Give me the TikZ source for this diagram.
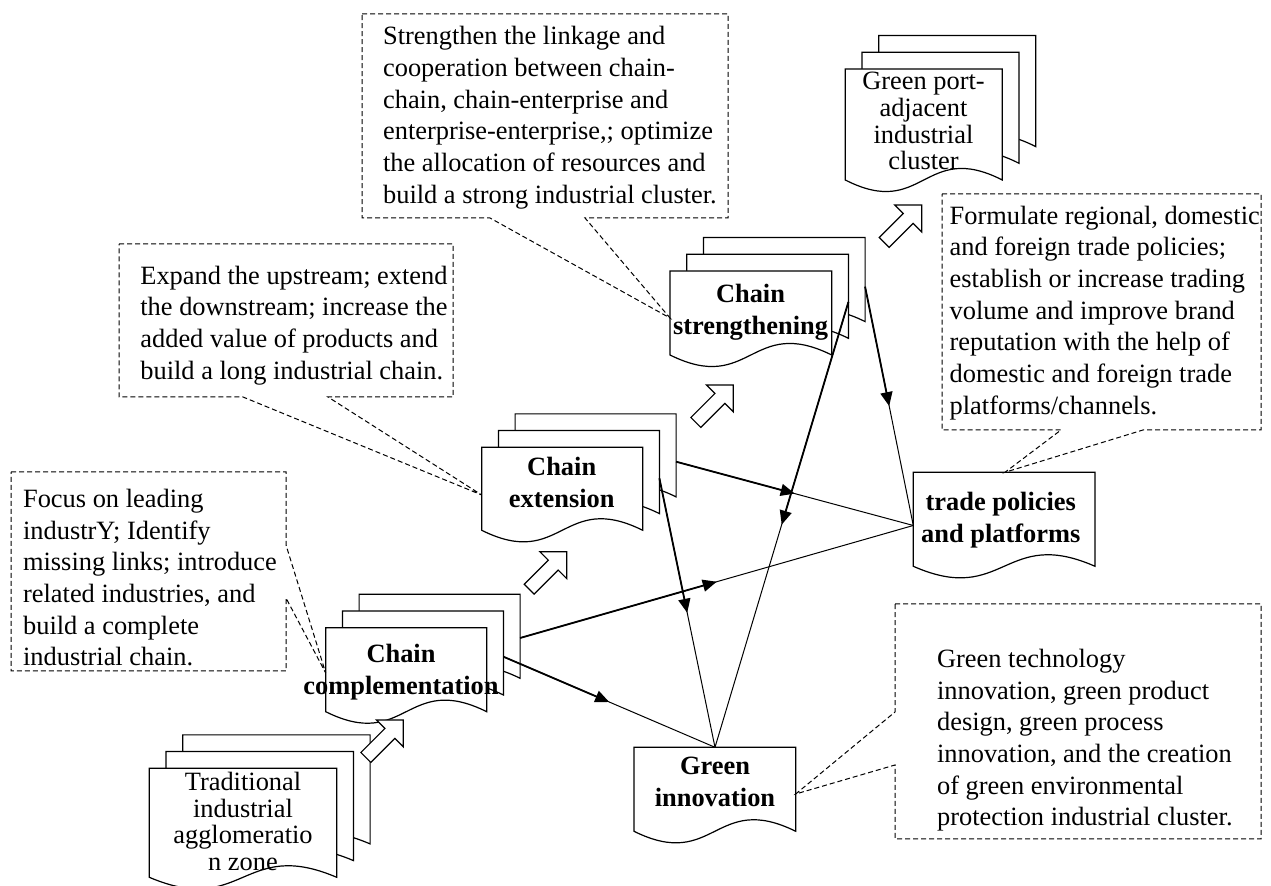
\documentclass[tikz,border=0pt]{standalone}
\usepackage{fontspec}
\setmainfont{Liberation Serif}
\usetikzlibrary{arrows.meta,calc}

% one page of a document symbol: left, top, width, side height
\newcommand{\docpage}[4]{%
  \draw[docline] ({#1},{#2}) -- ++(#3,0) -- ++(0,#4)
    .. controls +(-0.5*#3,-40) and +(0.5*#3,40) .. ++(-#3,0) -- cycle;}
% a pile of pages, the back ones first
\newcommand{\docstack}[5]{%
  \foreach \p in {#5,...,1}{%
    \pgfmathsetmacro\off{(\p-1)*16.7}
    \docpage{#1+\off}{#2-\off}{#3}{#4}}}

\begin{document}
\begin{tikzpicture}[x=0.5pt,y=-0.5pt,
  docline/.style={draw,fill=white,line width=0.6pt},
  doclabel/.style={anchor=north,inner sep=0pt,align=center,font=\fontsize{13.2}{15.85}\selectfont\bfseries},
  stacklabel/.style={anchor=north,inner sep=0pt,align=center,font=\fontsize{13.2}{13.3}\selectfont},
  note/.style={anchor=north west,inner sep=0pt,align=left,font=\fontsize{13.2}{15.85}\selectfont},
  notebox/.style={line width=0.5pt,dash pattern=on 2.5pt off 1.5pt},
  link/.style={line width=0.5pt},
  flow/.style={line width=0.9pt,-{Triangle[length=7pt,width=6pt]}},
  hollow/.style={draw,fill=white,line width=0.6pt}]

			\useasboundingbox (0,0) rectangle (1271,886);

			% document piles
			\docstack{149.3}{768.3}{187.4}{109}{3}
			\docstack{325.7}{627.7}{161}{84}{3}
			\docstack{481.7}{447.3}{161}{83}{3}
			\docstack{670}{271}{161.7}{84}{3}
			\docstack{845.3}{69}{157}{111}{3}
			\docstack{913.3}{472.3}{181.7}{94}{1}
			\docstack{634}{747.3}{161.7}{84}{1}

			\node[stacklabel] (trad) at (243,772) {Traditional\\industrial\\agglomeratio\\n zone};
			\node[stacklabel] (port) at (923.5,72) {Green port-\\adjacent\\industrial\\cluster};
			\node[doclabel] (comp) at (401,643.7) {Chain\\complementation};
			\node[doclabel] (ext) at (561.7,457) {Chain\\extension};
			\node[doclabel] (str) at (750.5,283.7) {Chain\\strengthening};
			\node[doclabel] (trade) at (1000.8,492) {trade policies\\and platforms};
			\node[doclabel] (green) at (715,757) {Green\\innovation};

			% where the lines meet the pages
			\coordinate (comp-r3) at (520.1,638);
			\coordinate (comp-r2) at (503.4,656.7);
			\coordinate (ext-r3) at (676.1,461.7);
			\coordinate (ext-r2) at (659.4,478.3);
			\coordinate (str-r3) at (865.1,286.7);
			\coordinate (str-r2) at (848.4,302);
			\coordinate (trade-in) at (913.3,525.5);
			\coordinate (green-in) at (715,747.3);
			\coordinate (comp-tip) at (325.7,673);
			\coordinate (ext-tip) at (481.7,495);
			\coordinate (str-tip) at (670,318);
			\coordinate (trade-tip) at (1005,472.3);
			\coordinate (green-tip) at (795.7,794);

			% hollow arrows from pile to pile
			\foreach \x/\y in {403.3/720,566.7/551.7,733.3/385,921.7/205}
			\draw[hollow,shift={(\x,\y)},rotate=45] (0,0) -- (-19,-19) -- (-19,-7) -- (-53,-7)
				-- (-53,7) -- (-19,7) -- (-19,19) -- cycle;

			\foreach \a/\b in {comp-r3/trade-in,ext-r3/trade-in,str-r3/trade-in,
				str-r2/green-in,ext-r2/green-in,comp-r2/green-in}
			{
				\draw[link] (\a) -- (\b);
				\draw[flow] (\a) -- ($(\a)!0.5!(\b)$);
			}

			% callouts
			\draw[notebox] (11,472) -- (286,472) -- (286,545) -- (comp-tip) -- (286,598) -- (286,671) -- (11,671) -- cycle;
			\node[note] (focusnote) at (22.7,488.7) {Focus on leading\\industrY; Identify\\missing links; introduce\\related industries, and\\build a complete\\industrial chain.};

			\draw[notebox] (119,244) -- (453,244) -- (453,397) -- (328,397) -- (ext-tip) -- (243,397) -- (119,397) -- cycle;
			\node[note] (expandnote) at (140,265.3) {Expand the upstream; extend\\the downstream; increase the\\added value of products and\\build a long industrial chain.};

			\draw[notebox] (362,14) -- (728,14) -- (728,218) -- (585,218) -- (str-tip) -- (490,218) -- (362,218) -- cycle;
			\node[note] (strengthnote) at (382.7,26) {Strengthen the linkage and\\cooperation between chain-\\chain, chain-enterprise and\\enterprise-enterprise,; optimize\\the allocation of resources and\\build a strong industrial cluster.};

			\draw[notebox] (942,194) -- (1261,194) -- (1261,430) -- (1143,430) -- (trade-tip) -- (1061,430) -- (942,430) -- cycle;
			\node[note] (tradenote) at (949.3,205.3) {Formulate regional, domestic\\and foreign trade policies;\\establish or increase trading\\volume and improve brand\\reputation with the help of\\domestic and foreign trade\\platforms/channels.};

			\draw[notebox] (895,604) -- (1261,604) -- (1261,839) -- (895,839) -- (895,765) -- (green-tip) -- (895,712) -- cycle;
			\node[note] (greennote) at (936.7,648.7) {Green technology\\innovation, green product\\design, green process\\innovation, and the creation\\of green environmental\\protection industrial cluster.};

		\end{tikzpicture}
\end{document}
